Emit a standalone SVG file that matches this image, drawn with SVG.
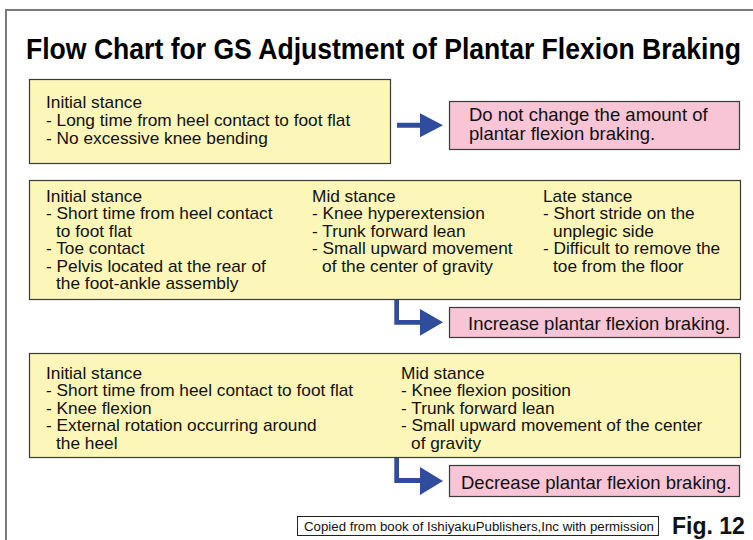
<svg xmlns="http://www.w3.org/2000/svg" width="753" height="540" viewBox="0 0 753 540">
<style>
.yb{fill:#fcf6b8;stroke:#3a3a3a;stroke-width:1.2}
.pb{fill:#f7c5d5;stroke:#3a3a3a;stroke-width:1.2}
.t{font-family:"Liberation Sans",Arial,sans-serif;font-size:16px;fill:#111}
.pt{font-family:"Liberation Sans",Arial,sans-serif;font-size:18.5px;fill:#111}
.title{font-family:"Liberation Sans",Arial,sans-serif;font-size:30px;font-weight:bold;fill:#000}
.arr{fill:#2f4d9c}
</style>
<rect width="753" height="540" fill="#ffffff"/>
<path d="M6,540 V10 H753" fill="none" stroke="#7a7a7a" stroke-width="2"/>
<text class="title" transform="translate(26,59) scale(0.886,1)" x="0" y="0">Flow Chart for GS Adjustment of Plantar Flexion Braking</text>

<g id="box1">
<rect class="yb" x="29.5" y="79.5" width="361" height="84"/>
<g transform="translate(46,0) scale(1.08,1)">
<text class="t" x="0" y="108">Initial stance</text>
<text class="t" x="0" y="126">- Long time from heel contact to foot flat</text>
<text class="t" x="0" y="144">- No excessive knee bending</text>
</g>
</g>

<g id="result1">
<rect class="pb" x="449.5" y="101.5" width="290" height="48"/>
<text class="pt" x="469" y="121">Do not change the amount of</text>
<text class="pt" x="469" y="140">plantar flexion braking.</text>
</g>

<g id="box2">
<rect class="yb" x="29.5" y="180.5" width="711" height="119"/>
<g transform="translate(46,0) scale(1.08,1)">
<text class="t" x="0" y="202">Initial stance</text>
<text class="t" x="0" y="219.5">- Short time from heel contact</text>
<text class="t" x="9.3" y="237">to foot flat</text>
<text class="t" x="0" y="254.5">- Toe contact</text>
<text class="t" x="0" y="272">- Pelvis located at the rear of</text>
<text class="t" x="9.3" y="289.5">the foot-ankle assembly</text>
</g>
<g transform="translate(312,0) scale(1.08,1)">
<text class="t" x="0" y="202">Mid stance</text>
<text class="t" x="0" y="219.5">- Knee hyperextension</text>
<text class="t" x="0" y="237">- Trunk forward lean</text>
<text class="t" x="0" y="254.5">- Small upward movement</text>
<text class="t" x="9.3" y="272">of the center of gravity</text>
</g>
<g transform="translate(543,0) scale(1.08,1)">
<text class="t" x="0" y="202">Late stance</text>
<text class="t" x="0" y="219.5">- Short stride on the</text>
<text class="t" x="9.3" y="237">unplegic side</text>
<text class="t" x="0" y="254.5">- Difficult to remove the</text>
<text class="t" x="9.3" y="272">toe from the floor</text>
</g>
</g>

<g id="result2">
<rect class="pb" x="449.5" y="307.5" width="290" height="30"/>
<text class="pt" x="468" y="330">Increase plantar flexion braking.</text>
</g>

<g id="box3">
<rect class="yb" x="29.5" y="353.5" width="711" height="104"/>
<g transform="translate(46,0) scale(1.08,1)">
<text class="t" x="0" y="379">Initial stance</text>
<text class="t" x="0" y="396.5">- Short time from heel contact to foot flat</text>
<text class="t" x="0" y="414">- Knee flexion</text>
<text class="t" x="0" y="431.5">- External rotation occurring around</text>
<text class="t" x="9.3" y="449">the heel</text>
</g>
<g transform="translate(401,0) scale(1.08,1)">
<text class="t" x="0" y="379">Mid stance</text>
<text class="t" x="0" y="396.5">- Knee flexion position</text>
<text class="t" x="0" y="414">- Trunk forward lean</text>
<text class="t" x="0" y="431.5">- Small upward movement of the center</text>
<text class="t" x="9.3" y="449">of gravity</text>
</g>
</g>

<g id="result3">
<rect class="pb" x="449.5" y="465.5" width="290" height="31"/>
<text class="pt" x="461" y="489">Decrease plantar flexion braking.</text>
</g>

<g id="connectors">
<path class="arr" d="M397,122.7 H420 V113.3 L443,125.3 L420,137.3 V127.7 H397 Z"/>
<path class="arr" d="M394.3,300 H399 V320 H420 V309 L443,322.3 L420,335.7 V324.7 H394.3 Z"/>
<path class="arr" d="M394.3,458 H399 V478 H420 V467 L443,481 L420,495 V483 H394.3 Z"/>
</g>

<g id="footer">
<rect x="297.5" y="516.5" width="361" height="19" fill="#ffffff" stroke="#222" stroke-width="1"/>
<text x="304" y="531" font-family="'Liberation Sans',Arial,sans-serif" font-size="12.5" fill="#111" textLength="350" lengthAdjust="spacingAndGlyphs">Copied from book of IshiyakuPublishers,Inc with permission</text>
<text x="672" y="534" font-family="'Liberation Sans',Arial,sans-serif" font-size="23" font-weight="bold" fill="#111">Fig. 12</text>
</g>
</svg>
